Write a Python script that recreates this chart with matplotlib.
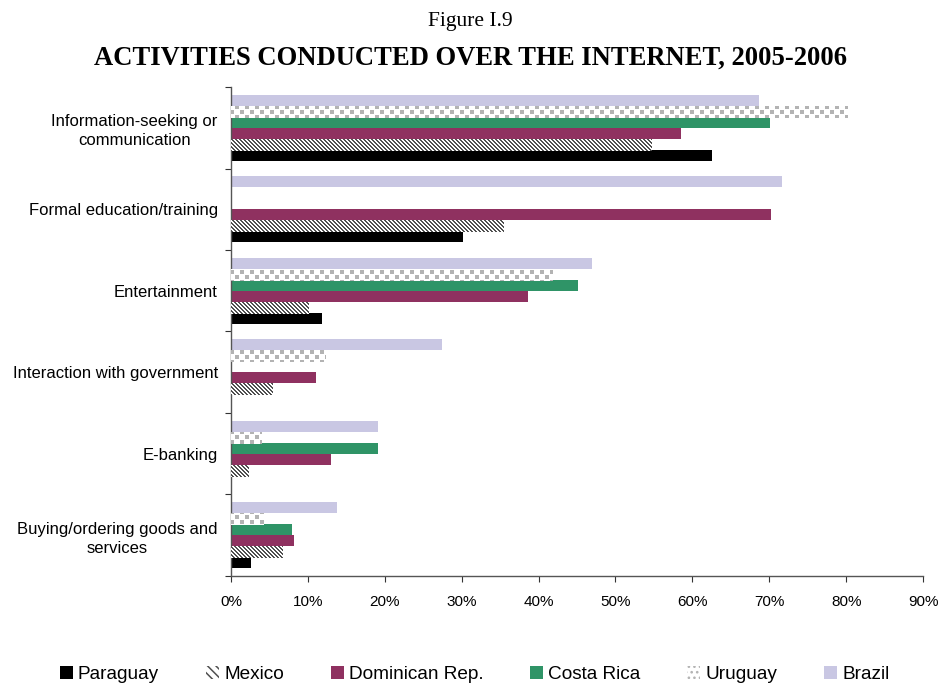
import numpy as np
import matplotlib
matplotlib.use("Agg")
import matplotlib.pyplot as plt
from matplotlib.patches import Patch

plt.rcParams['font.family'] = ['Liberation Sans', 'DejaVu Sans']
plt.rcParams['hatch.linewidth'] = 1.1

categories = [
    "Information-seeking or\ncommunication",
    "Formal education/training",
    "Entertainment",
    "Interaction with government",
    "E-banking",
    "Buying/ordering goods and\nservices",
]

# Share of internet users (%), per country; nan = not surveyed
paraguay      = [62.5, 30.2, 11.9, np.nan, np.nan, 2.6]
mexico        = [54.6, 35.4, 10.0, 5.4, 2.2, 6.6]
dominican_rep = [58.5, 70.2, 38.6, 11.0, 13.0, 8.2]
costa_rica    = [70.1, np.nan, 45.1, np.nan, 19.1, 8.0]
uruguay       = [80.1, np.nan, 41.8, 12.2, 3.9, 4.2]
brazil        = [68.7, 71.7, 46.9, 27.4, 19.1, 13.8]

W, H, DPI = 940, 683, 100
yy, xx = np.mgrid[0:H, 0:W]


def rgba(hexcol):
    return np.array(matplotlib.colors.to_rgba(hexcol))


def texture_stripes():
    # dark diagonal stripes running top-left to bottom-right
    img = np.ones((H, W, 4))
    dark = ((xx - yy) % 4) < 2
    img[dark] = rgba("#505050")
    return img


def texture_dots():
    # light grey squares on a staggered grid
    img = np.ones((H, W, 4))
    row = yy // 5
    shift = (row % 2) * 5
    on = (((xx + shift) % 10) < 4) & ((yy % 5) < 4)
    img[on] = rgba("#b3b3b3")
    return img


# name, values, bar fill, texture for bars, legend swatch style
series = [
    ("Paraguay", paraguay, "black", None, dict(facecolor="black")),
    ("Mexico", mexico, "white", texture_stripes,
     dict(facecolor="white", edgecolor="#505050", hatch="\\\\\\\\")),
    ("Dominican Rep.", dominican_rep, "#8f3160", None, dict(facecolor="#8f3160")),
    ("Costa Rica", costa_rica, "#2f9467", None, dict(facecolor="#2f9467")),
    ("Uruguay", uruguay, "white", texture_dots,
     dict(facecolor="white", edgecolor="#b3b3b3", hatch="...")),
    ("Brazil", brazil, "#c9c7e3", None, dict(facecolor="#c9c7e3")),
]

fig = plt.figure(figsize=(W / DPI, H / DPI), dpi=DPI)
ax = fig.add_axes([0.2457, 0.1567, 0.7363, 0.7159])
ax.patch.set_visible(False)

n = len(series)
h = 0.135
ypos = np.arange(len(categories))
handles = []
textured = []
for k, (name, vals, fill, tex, swatch) in enumerate(series):
    offs = (n / 2 - 0.5 - k) * h
    bars = ax.barh(ypos + offs, vals, height=h, linewidth=0, facecolor=fill)
    handles.append(Patch(label=name, linewidth=0, **swatch))
    if tex is not None:
        textured.append((tex(), list(bars)))

ax.set_xlim(0, 90)
ax.set_ylim(len(categories) - 0.5, -0.5)
ax.set_xticks(np.arange(0, 91, 10))
ax.set_xticklabels([f"{v}%" for v in range(0, 91, 10)], fontsize=11)

ax.set_yticks(np.arange(-0.5, len(categories), 1.0))
ax.set_yticklabels([])
ax.set_yticks(ypos, minor=True)
ax.set_yticklabels(categories, minor=True, fontsize=12, ha="right",
                   multialignment="center", linespacing=1.35)
ax.tick_params(axis="y", which="minor", length=0, pad=9.5)
ax.tick_params(axis="y", which="major", length=4, direction="out", color="#333333")
ax.tick_params(axis="x", length=4, direction="out", color="#333333", pad=10)

for s in ("top", "right"):
    ax.spines[s].set_visible(False)
for s in ("left", "bottom"):
    ax.spines[s].set_color("#555555")
    ax.spines[s].set_linewidth(1.0)

fig.text(0.5, 0.968, "Figure I.9", ha="center", va="center",
         fontsize=15.5, family="Liberation Serif")
fig.text(0.5, 0.915, "ACTIVITIES CONDUCTED OVER THE INTERNET, 2005-2006", ha="center",
         va="center", fontsize=19.2, fontweight="bold", family="Liberation Serif")

fig.legend(handles=handles, loc="center", bbox_to_anchor=(0.505, 0.013), ncol=6,
           frameon=False, fontsize=13.7, handlelength=0.68, handleheight=0.68,
           handletextpad=0.26, columnspacing=2.47, borderpad=0)

# patterned fills, clipped to each bar
for img, bars in textured:
    for patch in bars:
        if np.isfinite(patch.get_width()) and patch.get_width() > 0:
            im = fig.figimage(img, xo=0, yo=0, origin="upper", zorder=5)
            im.set_clip_path(patch)

fig.savefig("out.png", dpi=DPI)
